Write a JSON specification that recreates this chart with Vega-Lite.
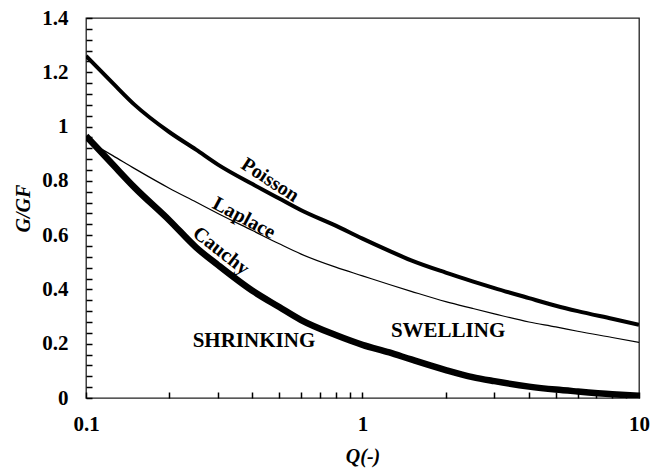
{
  "$schema": "https://vega.github.io/schema/vega-lite/v6.json",
  "width": 553,
  "height": 380,
  "autosize": "none",
  "padding": {"left": 86, "top": 18, "right": 12, "bottom": 72},
  "background": "white",
  "config": {
    "view": {"stroke": "#222", "strokeWidth": 1.3},
    "font": "Liberation Serif",
    "axis": {"grid": false, "domain": false, "tickColor": "black", "tickWidth": 1.5, "labelColor": "black", "titleColor": "black", "labelFont": "Liberation Serif", "titleFont": "Liberation Serif", "labelFontWeight": "bold", "labelFontSize": 21, "titleFontSize": 20, "titleFontWeight": "bold", "titleFontStyle": "italic", "labelOverlap": false}
  },
  "datasets": {
    "curves": [
      {"Q": 0.1, "G": 1.26, "model": "Poisson"},
      {"Q": 0.125, "G": 1.16, "model": "Poisson"},
      {"Q": 0.15, "G": 1.08, "model": "Poisson"},
      {"Q": 0.2, "G": 0.98, "model": "Poisson"},
      {"Q": 0.25, "G": 0.915, "model": "Poisson"},
      {"Q": 0.3, "G": 0.86, "model": "Poisson"},
      {"Q": 0.4, "G": 0.788, "model": "Poisson"},
      {"Q": 0.5, "G": 0.735, "model": "Poisson"},
      {"Q": 0.6, "G": 0.692, "model": "Poisson"},
      {"Q": 0.8, "G": 0.635, "model": "Poisson"},
      {"Q": 1, "G": 0.587, "model": "Poisson"},
      {"Q": 1.25, "G": 0.542, "model": "Poisson"},
      {"Q": 1.5, "G": 0.507, "model": "Poisson"},
      {"Q": 2, "G": 0.462, "model": "Poisson"},
      {"Q": 2.5, "G": 0.43, "model": "Poisson"},
      {"Q": 3, "G": 0.405, "model": "Poisson"},
      {"Q": 4, "G": 0.368, "model": "Poisson"},
      {"Q": 5, "G": 0.34, "model": "Poisson"},
      {"Q": 6, "G": 0.32, "model": "Poisson"},
      {"Q": 8, "G": 0.292, "model": "Poisson"},
      {"Q": 10, "G": 0.27, "model": "Poisson"},
      {"Q": 0.1, "G": 0.95, "model": "Laplace"},
      {"Q": 0.125, "G": 0.893, "model": "Laplace"},
      {"Q": 0.15, "G": 0.845, "model": "Laplace"},
      {"Q": 0.2, "G": 0.773, "model": "Laplace"},
      {"Q": 0.25, "G": 0.722, "model": "Laplace"},
      {"Q": 0.3, "G": 0.68, "model": "Laplace"},
      {"Q": 0.4, "G": 0.617, "model": "Laplace"},
      {"Q": 0.5, "G": 0.568, "model": "Laplace"},
      {"Q": 0.6, "G": 0.53, "model": "Laplace"},
      {"Q": 0.8, "G": 0.482, "model": "Laplace"},
      {"Q": 1, "G": 0.45, "model": "Laplace"},
      {"Q": 1.25, "G": 0.418, "model": "Laplace"},
      {"Q": 1.5, "G": 0.393, "model": "Laplace"},
      {"Q": 2, "G": 0.355, "model": "Laplace"},
      {"Q": 2.5, "G": 0.33, "model": "Laplace"},
      {"Q": 3, "G": 0.31, "model": "Laplace"},
      {"Q": 4, "G": 0.28, "model": "Laplace"},
      {"Q": 5, "G": 0.262, "model": "Laplace"},
      {"Q": 6, "G": 0.246, "model": "Laplace"},
      {"Q": 8, "G": 0.223, "model": "Laplace"},
      {"Q": 10, "G": 0.205, "model": "Laplace"},
      {"Q": 0.1, "G": 0.965, "model": "Cauchy"},
      {"Q": 0.125, "G": 0.86, "model": "Cauchy"},
      {"Q": 0.15, "G": 0.775, "model": "Cauchy"},
      {"Q": 0.2, "G": 0.655, "model": "Cauchy"},
      {"Q": 0.25, "G": 0.555, "model": "Cauchy"},
      {"Q": 0.3, "G": 0.49, "model": "Cauchy"},
      {"Q": 0.4, "G": 0.395, "model": "Cauchy"},
      {"Q": 0.5, "G": 0.335, "model": "Cauchy"},
      {"Q": 0.6, "G": 0.287, "model": "Cauchy"},
      {"Q": 0.8, "G": 0.232, "model": "Cauchy"},
      {"Q": 1, "G": 0.196, "model": "Cauchy"},
      {"Q": 1.25, "G": 0.168, "model": "Cauchy"},
      {"Q": 1.5, "G": 0.142, "model": "Cauchy"},
      {"Q": 2, "G": 0.103, "model": "Cauchy"},
      {"Q": 2.5, "G": 0.077, "model": "Cauchy"},
      {"Q": 3, "G": 0.062, "model": "Cauchy"},
      {"Q": 4, "G": 0.042, "model": "Cauchy"},
      {"Q": 5, "G": 0.031, "model": "Cauchy"},
      {"Q": 6, "G": 0.024, "model": "Cauchy"},
      {"Q": 8, "G": 0.014, "model": "Cauchy"},
      {"Q": 10, "G": 0.008, "model": "Cauchy"}
    ],
    "labels": [
      {"text": "Poisson", "Q": 0.463, "G": 0.803},
      {"text": "Laplace", "Q": 0.373, "G": 0.663},
      {"text": "Cauchy", "Q": 0.308, "G": 0.542},
      {"text": "SHRINKING", "Q": 0.405, "G": 0.21},
      {"text": "SWELLING", "Q": 2.04, "G": 0.247}
    ]
  },
  "layer": [
    {
      "data": {"name": "curves"},
      "mark": {"type": "line", "color": "black", "interpolate": "monotone", "strokeCap": "butt", "clip": true},
      "encoding": {
        "x": {
          "field": "Q", "type": "quantitative",
          "scale": {"type": "log", "domain": [0.1, 10], "nice": false},
          "axis": {
            "title": "Q(-)",
            "values": [0.1, 0.2, 0.3, 0.4, 0.5, 0.6, 0.7, 0.8, 0.9, 1, 2, 3, 4, 5, 6, 7, 8, 9, 10],
            "tickCount": 200,
            "labelExpr": "(datum.value == 0.1 || datum.value == 1 || datum.value == 10) ? format(datum.value, '~g') : ''",
            "offset": -6,
            "tickSize": 6,
            "labelPadding": 15,
            "titlePadding": 12,
            "labelFlush": false,
            "labelOverlap": false,
            "labelBound": false
          }
        },
        "y": {
          "field": "G", "type": "quantitative",
          "scale": {"domain": [0, 1.4], "nice": false},
          "axis": {
            "title": "G/GF",
            "values": [0, 0.04, 0.08, 0.12, 0.16, 0.2, 0.24, 0.28, 0.32, 0.36, 0.4, 0.44, 0.48, 0.52, 0.56, 0.6, 0.64, 0.68, 0.72, 0.76, 0.8, 0.84, 0.88, 0.92, 0.96, 1, 1.04, 1.08, 1.12, 1.16, 1.2, 1.24, 1.28, 1.32, 1.36, 1.4],
            "tickCount": 200,
            "labelExpr": "(datum.value == 0 || datum.value == 0.2 || datum.value == 0.4 || datum.value == 0.6 || datum.value == 0.8 || datum.value == 1 || datum.value == 1.2 || datum.value == 1.4) ? format(datum.value, '~g') : ''",
            "offset": -6,
            "tickSize": 6,
            "labelPadding": 18,
            "titlePadding": 8,
            "labelOverlap": false,
            "labelBound": false,
            "labelFlush": false
          }
        },
        "detail": {"field": "model"},
        "strokeWidth": {"field": "model", "type": "ordinal", "scale": {"type": "ordinal", "domain": ["Poisson", "Laplace", "Cauchy"], "range": [4, 1.2, 6.5]}, "legend": null}
      }
    },
    {
      "data": {"name": "labels"},
      "transform": [{"filter": "datum.text == 'Poisson'"}],
      "mark": {"type": "text", "angle": 33, "fontSize": 20, "fontWeight": "bold", "font": "Liberation Serif", "color": "black"},
      "encoding": {"x": {"field": "Q", "type": "quantitative"}, "y": {"field": "G", "type": "quantitative"}, "text": {"field": "text"}}
    },
    {
      "data": {"name": "labels"},
      "transform": [{"filter": "datum.text == 'Laplace'"}],
      "mark": {"type": "text", "angle": 28, "fontSize": 20, "fontWeight": "bold", "font": "Liberation Serif", "color": "black"},
      "encoding": {"x": {"field": "Q", "type": "quantitative"}, "y": {"field": "G", "type": "quantitative"}, "text": {"field": "text"}}
    },
    {
      "data": {"name": "labels"},
      "transform": [{"filter": "datum.text == 'Cauchy'"}],
      "mark": {"type": "text", "angle": 38, "fontSize": 20, "fontWeight": "bold", "font": "Liberation Serif", "color": "black"},
      "encoding": {"x": {"field": "Q", "type": "quantitative"}, "y": {"field": "G", "type": "quantitative"}, "text": {"field": "text"}}
    },
    {
      "data": {"name": "labels"},
      "transform": [{"filter": "datum.text == 'SHRINKING' || datum.text == 'SWELLING'"}],
      "mark": {"type": "text", "fontSize": 21, "fontWeight": "bold", "font": "Liberation Serif", "color": "black"},
      "encoding": {"x": {"field": "Q", "type": "quantitative"}, "y": {"field": "G", "type": "quantitative"}, "text": {"field": "text"}}
    }
  ]
}
